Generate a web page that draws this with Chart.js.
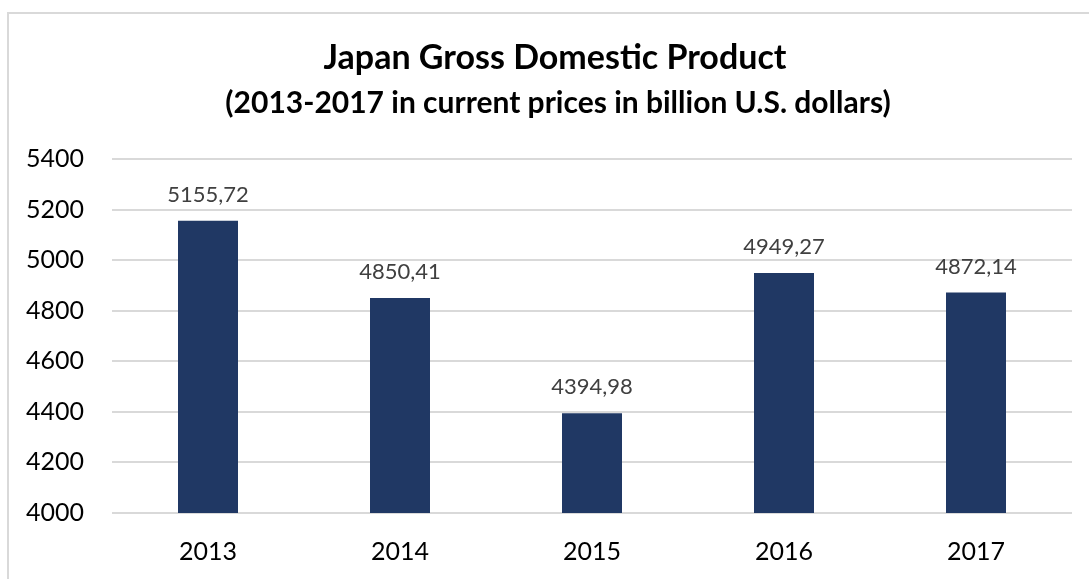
<!DOCTYPE html>
<html>
<head>
<meta charset="utf-8">
<script src="https://cdn.jsdelivr.net/npm/chart.js@4"></script>
<style>
html,body{margin:0;padding:0;background:#fff;width:1089px;height:579px;overflow:hidden;}
#frame{position:absolute;left:7px;top:12px;width:1100px;height:600px;border:2px solid #d9d9d9;box-sizing:border-box;}
#wrap{position:absolute;left:0;top:0;width:1089px;height:579px;}
</style>
</head>
<body>
<div id="frame"></div>
<div id="wrap"><canvas id="c" width="1089" height="579"></canvas></div>
<script>
const categories = ['2013', '2014', '2015', '2016', '2017'];
const gdpValues = [5155.72, 4850.41, 4394.98, 4949.27, 4872.14];
const yTicks = [4000, 4200, 4400, 4600, 4800, 5000, 5200, 5400];
const titleText = 'Japan Gross Domestic Product';
const subtitleText = '(2013-2017 in current prices in billion U.S. dollars)';

const FONT = 'Lato, "Open Sans", sans-serif';

const valueLabels = {
  id: 'valueLabels',
  afterDatasetsDraw(chart) {
    const ctx = chart.ctx;
    const meta = chart.getDatasetMeta(0);
    ctx.save();
    ctx.font = '22px ' + FONT;
    ctx.fillStyle = '#404040';
    ctx.textAlign = 'center';
    ctx.textBaseline = 'middle';
    meta.data.forEach((bar, i) => {
      const v = chart.data.datasets[0].data[i];
      ctx.fillText(v.toFixed(2).replace('.', ','), bar.x, bar.y - 26);
    });
    ctx.restore();
  }
};

const titles = {
  id: 'titles',
  afterDraw(chart) {
    const ctx = chart.ctx;
    ctx.save();
    ctx.fillStyle = '#000';
    ctx.textAlign = 'center';
    ctx.textBaseline = 'middle';
    ctx.font = 'bold 34px ' + FONT;
    ctx.fillText(titleText, 555, 58);
    ctx.font = 'bold 30px ' + FONT;
    ctx.fillText(subtitleText, 558, 103);
    ctx.restore();
  }
};

new Chart(document.getElementById('c'), {
  type: 'bar',
  data: {
    labels: categories,
    datasets: [{
      data: gdpValues,
      backgroundColor: '#203864',
      borderWidth: 0,
      categoryPercentage: 1,
      barPercentage: 0.3125
    }]
  },
  options: {
    responsive: false,
    animation: false,
    layout: { padding: { left: 0, right: 17, top: 159, bottom: 0 } },
    plugins: {
      legend: { display: false },
      tooltip: { enabled: false },
      title: { display: false },
      subtitle: { display: false }
    },
    scales: {
      x: {
        grid: { display: false, drawTicks: false },
        border: { display: false },
        ticks: { color: '#000', font: { family: FONT, size: 25 }, padding: 24 },
        afterFit(s) { s.height = 66; }
      },
      y: {
        min: 4000,
        max: 5400,
        afterBuildTicks(s) { s.ticks = yTicks.map(v => ({ value: v })); },
        grid: { color: '#d9d9d9', lineWidth: 2, drawTicks: false },
        border: { display: false },
        ticks: { color: '#000', font: { family: FONT, size: 25 }, padding: 28, callback: v => String(v) },
        afterFit(s) { s.width = 112; }
      }
    }
  },
  plugins: [valueLabels, titles]
});
</script>
</body>
</html>
